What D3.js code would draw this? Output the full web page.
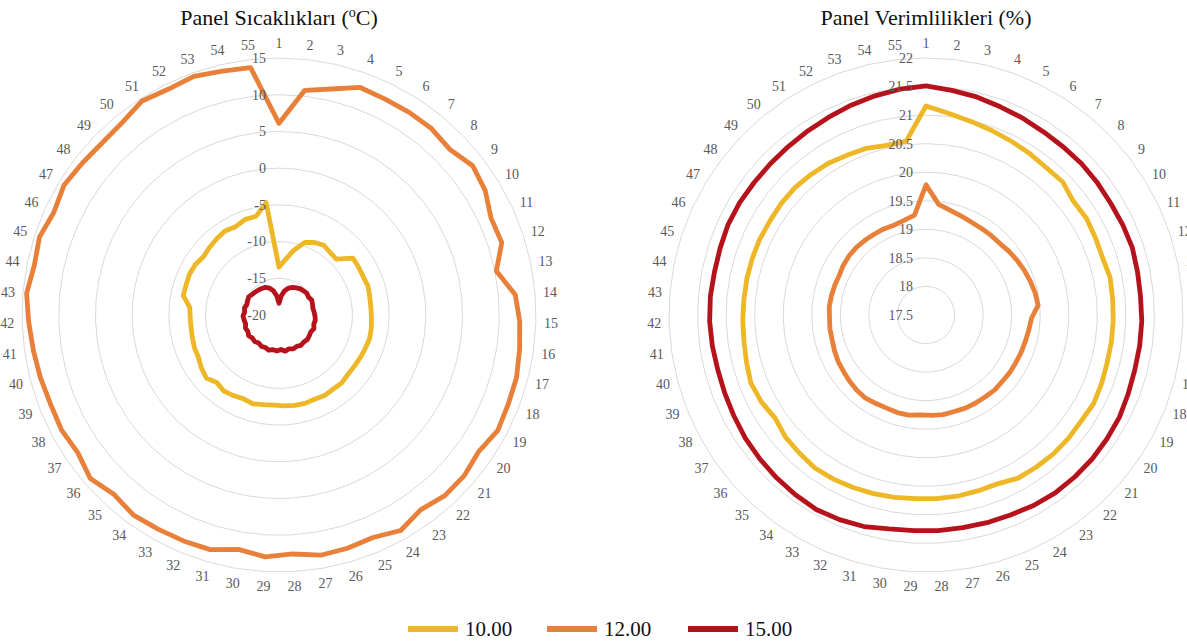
<!DOCTYPE html>
<html>
<head>
<meta charset="utf-8">
<script src="https://cdn.jsdelivr.net/npm/d3@7"></script>
<style>
  html, body { margin: 0; padding: 0; background: #ffffff; }
  svg { display: block; }
  text { font-family: "Liberation Serif", "Times New Roman", serif; }
</style>
</head>
<body>
<svg id="chart" width="1187" height="643"></svg>
<script>
// Measurement points 1..55
const categories = d3.range(1, 56);

// Series names (legend)
const seriesNames = ["10.00", "12.00", "15.00"];

// Panel temperatures (°C)
const tempTicks = [-20, -15, -10, -5, 0, 5, 10, 15];
const temp10 = [-13.5, -12.4, -10.9, -9.5, -9.0, -8.7, -9.0, -9.1, -7.3, -7.35, -7.4, -7.25, -7.4, -7.45, -7.4,
  -7.3, -7.25, -7.4, -7.5, -7.6, -7.6, -7.4, -7.5, -7.4, -7.55, -7.45, -7.5, -7.6, -7.7, -7.6,
  -7.4, -7.6, -7.4, -7.2, -7.5, -6.9, -7.2, -7.6, -7.65, -7.8, -7.9, -7.9, -7.8, -6.7, -6.7,
  -6.6, -6.7, -7.0, -6.8, -6.6, -6.4, -6.6, -6.2, -6.2, -4.6];
const temp12 = [6.1, 10.8, 11.6, 12.9, 12.75, 12.8, 12.8, 12.4, 13.3, 12.8, 11.75, 11.9, 10.2, 12.3, 12.8,
  13.1, 13.45, 13.5, 13.7, 12.95, 13.4, 13.4, 12.8, 13.7, 12.9, 13.1, 13.2, 12.6, 13.0, 12.4,
  13.3, 13.4, 13.5, 13.7, 13.2, 14.0, 13.2, 13.5, 13.4, 13.6, 13.8, 14.1, 14.5, 14.0, 14.3,
  13.7, 14.2, 13.85, 13.6, 13.8, 14.6, 14.25, 14.5, 14.1, 13.9];
const temp15 = [-18.4, -17.4, -16.6, -16.1, -15.8, -15.6, -15.4, -15.3, -15.2, -15.3, -15.1, -15.2, -15.3, -15.2, -15.1,
  -15.0, -15.1, -14.9, -15.1, -15.0, -14.9, -15.0, -14.9, -15.1, -15.0, -15.2, -15.0, -15.3, -15.1, -15.2,
  -15.0, -15.2, -15.1, -15.3, -15.1, -15.2, -15.0, -15.2, -15.1, -15.3, -15.2, -15.1, -15.3, -15.2, -15.4,
  -15.3, -15.2, -15.4, -15.5, -15.6, -15.7, -15.8, -16.1, -16.6, -17.4];

// Panel efficiencies (%)
const effTicks = [17.5, 18, 18.5, 19, 19.5, 20, 20.5, 21, 21.5, 22];
const eff10 = [21.16, 21.05, 20.98, 20.93, 20.89, 20.86, 20.83, 20.84, 20.76, 20.78, 20.76, 20.75, 20.79, 20.78, 20.78,
  20.78, 20.78, 20.8, 20.82, 20.79, 20.8, 20.8, 20.79, 20.78, 20.71, 20.71, 20.72, 20.72, 20.72, 20.74,
  20.76, 20.78, 20.8, 20.81, 20.78, 20.76, 20.7, 20.76, 20.79, 20.75, 20.72, 20.71, 20.7, 20.7, 20.7,
  20.7, 20.69, 20.7, 20.7, 20.68, 20.66, 20.62, 20.6, 20.55, 20.56];
const eff12 = [19.78, 19.45, 19.38, 19.34, 19.31, 19.3, 19.3, 19.3, 19.33, 19.36, 19.39, 19.42, 19.45, 19.47, 19.35,
  19.32, 19.3, 19.29, 19.28, 19.28, 19.27, 19.28, 19.27, 19.27, 19.27, 19.26, 19.27, 19.26, 19.25, 19.28,
  19.28, 19.27, 19.28, 19.3, 19.29, 19.27, 19.25, 19.24, 19.22, 19.2, 19.2, 19.19, 19.2, 19.19, 19.18,
  19.17, 19.19, 19.2, 19.2, 19.19, 19.18, 19.18, 19.17, 19.2, 19.26];
const eff15 = [21.51, 21.46, 21.42, 21.37, 21.34, 21.31, 21.3, 21.3, 21.29, 21.28, 21.29, 21.3, 21.28, 21.27, 21.28,
  21.28, 21.28, 21.3, 21.33, 21.34, 21.35, 21.35, 21.35, 21.33, 21.3, 21.29, 21.28, 21.28, 21.28, 21.3,
  21.36, 21.39, 21.41, 21.39, 21.37, 21.35, 21.33, 21.3, 21.28, 21.27, 21.28, 21.29, 21.29, 21.28, 21.29,
  21.31, 21.31, 21.3, 21.3, 21.31, 21.33, 21.36, 21.4, 21.44, 21.48];

const colors = ["#EDB728", "#E8803A", "#B5121B"];

const svg = d3.select("#chart");
svg.append("rect").attr("width", 1187).attr("height", 643).attr("fill", "#ffffff");

const R = 257;
const angle = d3.scaleLinear().domain([0, categories.length]).range([0, 2 * Math.PI]);

function radar(opts) {
  const g = svg.append("g").attr("transform", `translate(${opts.cx},${opts.cy})`);
  const r = d3.scaleLinear().domain([opts.ticks[0], opts.ticks[opts.ticks.length - 1]]).range([0, R]);

  // Gridlines: one closed polygon per value tick
  const ring = d3.lineRadial()
    .angle((d, i) => angle(i))
    .radius(d => r(d))
    .curve(d3.curveLinearClosed);
  g.selectAll("path.grid")
    .data(opts.ticks.slice(1))
    .join("path")
    .attr("class", "grid")
    .attr("d", t => ring(categories.map(() => t)))
    .attr("fill", "none")
    .attr("stroke", "#d9d9d9")
    .attr("stroke-width", 1);

  // Series lines
  const line = d3.lineRadial()
    .angle((d, i) => angle(i))
    .radius(d => r(d))
    .curve(d3.curveLinearClosed);
  g.selectAll("path.series")
    .data(opts.series)
    .join("path")
    .attr("class", "series")
    .attr("d", d => line(d))
    .attr("fill", "none")
    .attr("stroke", (d, i) => colors[i])
    .attr("stroke-width", 4.8)
    .attr("stroke-linejoin", "round");

  // Value axis labels along the vertical spoke
  g.selectAll("text.tick")
    .data(opts.ticks)
    .join("text")
    .attr("class", "tick")
    .attr("x", -13)
    .attr("y", t => -r(t))
    .attr("dy", "0.35em")
    .attr("text-anchor", "end")
    .attr("font-size", 14)
    .attr("fill", "#595959")
    .text(t => String(t));

  // Category labels around the outside
  const LR = 272;
  g.selectAll("text.cat")
    .data(categories)
    .join("text")
    .attr("class", "cat")
    .attr("x", (d, i) => LR * Math.sin(angle(i)))
    .attr("y", (d, i) => -LR * Math.cos(angle(i)))
    .attr("dy", "0.35em")
    .attr("text-anchor", "middle")
    .attr("font-size", 14)
    .attr("fill", "#595959")
    .text(d => d);

  // Title
  const title = svg.append("text")
    .attr("x", opts.cx)
    .attr("y", 25)
    .attr("text-anchor", "middle")
    .attr("font-size", 22)
    .attr("fill", "#111111");
  opts.title(title);
}

radar({
  cx: 279, cy: 315,
  ticks: tempTicks,
  series: [temp10, temp12, temp15],
  title: t => {
    t.append("tspan").text("Panel Sıcaklıkları (");
    t.append("tspan").attr("font-size", 14).attr("dy", -8).text("o");
    t.append("tspan").attr("dy", 8).text("C)");
  }
});

radar({
  cx: 926, cy: 315,
  ticks: effTicks,
  series: [eff10, eff12, eff15],
  title: t => t.text("Panel Verimlilikleri (%)")
});

// Legend
const legend = svg.append("g").attr("transform", "translate(408,629)");
const legendX = [0, 139, 280];
seriesNames.forEach((name, i) => {
  const item = legend.append("g").attr("transform", `translate(${legendX[i]},0)`);
  item.append("rect")
    .attr("x", 0).attr("y", -3)
    .attr("width", 50).attr("height", 6)
    .attr("fill", colors[i]);
  item.append("text")
    .attr("x", 57).attr("y", 0)
    .attr("dy", "0.35em")
    .attr("font-size", 21)
    .attr("fill", "#111111")
    .text(name);
});
</script>
</body>
</html>
